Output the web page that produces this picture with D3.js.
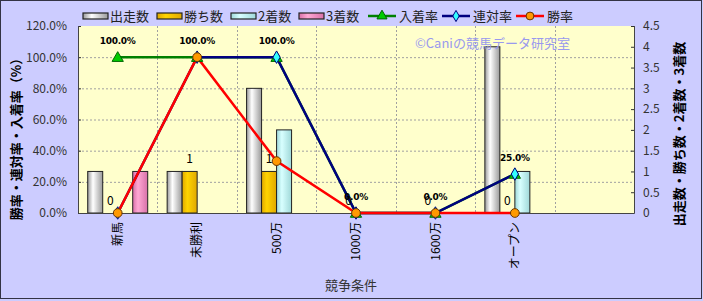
<!DOCTYPE html>
<html>
<head>
<meta charset="utf-8">
<script src="https://cdn.jsdelivr.net/npm/d3@7"></script>
<style>
body { margin: 0; background: #ccccff; }
svg { display: block; font-family: "Noto Sans CJK JP", "DejaVu Sans", sans-serif; }
</style>
</head>
<body>
<div id="chart"></div>
<script>
// data
var categories = ["新馬", "未勝利", "500万", "1000万", "1600万", "オープン", ""];
var starts = [1, 1, 3, 0, 0, 4];
var wins = [0, 1, 1, 0, 0, 0];
var seconds = [0, 0, 2, 0, 0, 1];
var thirds = [1, 0, 0, 0, 0, 0];
var placeRate = [100, 100, 100, 0, 0, 25];
var rentaiRate = [0, 100, 100, 0, 0, 25];
var winRate = [0, 100, 33.3, 0, 0, 0];
var leftTicks = [0, 20, 40, 60, 80, 100, 120];
var rightTicks = [0, 0.5, 1, 1.5, 2, 2.5, 3, 3.5, 4, 4.5];

var W = 703, H = 301;
var plot = {left: 78, right: 634, top: 26, bottom: 213};

var svg = d3.select("#chart").append("svg")
    .attr("width", W)
    .attr("height", H);

var defs = svg.append("defs");
function grad(id, edge, mid) {
    var g = defs.append("linearGradient").attr("id", id)
        .attr("x1", "0%").attr("x2", "100%").attr("y1", "0%").attr("y2", "0%");
    g.append("stop").attr("offset", "0%").attr("stop-color", edge);
    g.append("stop").attr("offset", "35%").attr("stop-color", mid);
    g.append("stop").attr("offset", "100%").attr("stop-color", edge);
}
grad("g-start", "#9a9a9a", "#ffffff");
grad("g-win", "#e0a800", "#ffd400");
grad("g-second", "#9fd8d8", "#d8ffff");
grad("g-third", "#d870a8", "#ffa8d4");

// background and outer frame
svg.append("rect").attr("x", 0.5).attr("y", 0.5).attr("width", W - 2).attr("height", H - 3)
    .attr("fill", "#ccccff").attr("stroke", "#333344");

svg.append("rect")
    .attr("x", plot.left).attr("y", plot.top)
    .attr("width", plot.right - plot.left).attr("height", plot.bottom - plot.top)
    .attr("fill", "#ffffcc");

var x = d3.scaleBand().domain(d3.range(categories.length)).range([plot.left, plot.right]);
var xs = d3.scaleBand().domain(d3.range(4)).range([-30, 30]);
var yL = d3.scaleLinear().domain([0, 120]).range([plot.bottom, plot.top]);
var yR = d3.scaleLinear().domain([0, 4.5]).range([plot.bottom, plot.top]);

//grid
svg.append("g").selectAll("line").data(leftTicks.slice(1, -1)).enter().append("line")
    .attr("x1", plot.left).attr("x2", plot.right)
    .attr("y1", function (d) { return yL(d) + 0.5; })
    .attr("y2", function (d) { return yL(d) + 0.5; })
    .attr("stroke", "#a0a0a0").attr("stroke-dasharray", "2,2");
svg.append("g").selectAll("line").data(d3.range(1, categories.length)).enter().append("line")
    .attr("x1", function (d) { return Math.round(x(d)) + 0.5; })
    .attr("x2", function (d) { return Math.round(x(d)) + 0.5; })
    .attr("y1", plot.top).attr("y2", plot.bottom)
    .attr("stroke", "#a0a0a0").attr("stroke-dasharray", "2,2");

// axes
var leftAxis = svg.append("g").attr("transform", "translate(" + plot.left + ",0)")
    .call(d3.axisRight(yL).tickValues(leftTicks).tickSize(3).tickFormat(function (d) { return d.toFixed(1) + "%"; }));
leftAxis.select(".domain").remove();
leftAxis.selectAll("text").attr("x", -11).attr("text-anchor", "end");

var rightAxis = svg.append("g").attr("transform", "translate(" + plot.right + ",0)")
    .call(d3.axisLeft(yR).tickValues(rightTicks).tickSize(3).tickFormat(d3.format("")));
rightAxis.select(".domain").remove();
rightAxis.selectAll("text").attr("x", 9).attr("text-anchor", "start");

svg.selectAll(".tick text").attr("font-size", 12).attr("fill", "#333").attr("font-family", "Noto Sans CJK JP");
svg.selectAll(".tick line").attr("stroke", "#333");

// bars
var barSeries = [
    {values: starts, fill: "url(#g-start)"},
    {values: wins, fill: "url(#g-win)"},
    {values: seconds, fill: "url(#g-second)"},
    {values: thirds, fill: "url(#g-third)"}
];
barSeries.forEach(function (s, k) {
    svg.append("g").selectAll("rect")
        .data(s.values.map(function (v, i) { return {v: v, i: i}; }).filter(function (d) { return d.v > 0; }))
        .enter().append("rect")
        .attr("x", function (d) { return x(d.i) + x.bandwidth() / 2 + xs(k); })
        .attr("y", function (d) { return yR(d.v); })
        .attr("width", xs.bandwidth())
        .attr("height", function (d) { return yR(0) - yR(d.v); })
        .attr("fill", s.fill)
        .attr("stroke", "#222").attr("stroke-width", 1);
});

// plot frame
svg.append("path")
    .attr("d", "M" + (plot.left + 0.5) + "," + plot.top + "V" + (plot.bottom + 0.5) + "H" + (plot.right + 0.5) + "V" + plot.top)
    .attr("fill", "none").attr("stroke", "#444").attr("stroke-width", 1);

// lines
var cx = function (d, i) { return x(i) + x.bandwidth() / 2; };
var lineSeries = [
    {name: "入着率", values: placeRate, color: "#008000", marker: "triangle", mfill: "#00cc00", mstroke: "#006600"},
    {name: "連対率", values: rentaiRate, color: "#000080", marker: "diamond", mfill: "#33ffff", mstroke: "#000080"},
    {name: "勝率", values: winRate, color: "#ff0000", marker: "circle", mfill: "#ff9900", mstroke: "#663300"}
];
var symbolType = {triangle: d3.symbolTriangle, diamond: d3.symbolDiamond, circle: d3.symbolCircle};
var symbolSize = {triangle: 55, diamond: 45, circle: 60};

lineSeries.forEach(function (s) {
    var line = d3.line().x(cx).y(function (d) { return yL(d); });
    svg.append("path").datum(s.values)
        .attr("d", line)
        .attr("fill", "none").attr("stroke", s.color).attr("stroke-width", 2.5);
});
lineSeries.forEach(function (s) {
    svg.append("g").selectAll("path").data(s.values).enter().append("path")
        .attr("transform", function (d, i) { return "translate(" + cx(d, i) + "," + (yL(d) + (s.marker == "triangle" ? 1 : 0)) + ")"; })
        .attr("d", d3.symbol().type(symbolType[s.marker]).size(symbolSize[s.marker]))
        .attr("fill", s.mfill).attr("stroke", s.mstroke).attr("stroke-width", 1);
});

// data labels
svg.append("g").selectAll("text").data(wins).enter().append("text")
    .attr("x", function (d, i) { return x(i) + x.bandwidth() / 2 + xs(1) + xs.bandwidth() / 2; })
    .attr("y", function (d) { return yR(d) - 8; })
    .attr("text-anchor", "middle")
    .attr("font-size", 12).attr("fill", "#000")
    .text(function (d) { return d; });

svg.append("g").selectAll("text").data(placeRate).enter().append("text")
    .attr("x", cx)
    .attr("y", function (d) { return yL(d) - 13; })
    .attr("text-anchor", "middle")
    .attr("font-size", 9).attr("font-weight", "bold").attr("fill", "#000")
    .attr("font-family", "DejaVu Sans")
    .attr("letter-spacing", -0.3)
    .text(function (d) { return d.toFixed(1) + "%"; });

// x labels
svg.append("g").selectAll("text").data(categories).enter().append("text")
    .attr("transform", function (d, i) { return "translate(" + (x(i) + x.bandwidth() / 2) + ",222) rotate(-90)"; })
    .attr("text-anchor", "end")
    .attr("dy", "0.35em")
    .attr("font-size", 12).attr("fill", "#000")
    .text(function (d) { return d; });

// titles
svg.append("text").attr("x", 351).attr("y", 290).attr("text-anchor", "middle")
    .attr("font-size", 13).attr("fill", "#333").text("競争条件");
svg.append("text").attr("transform", "translate(16,136) rotate(-90)")
    .attr("text-anchor", "middle").attr("dy", "0.35em")
    .attr("font-size", 13).attr("font-weight", "bold").attr("fill", "#000")
    .text("勝率・連対率・入着率（%）");
svg.append("text").attr("transform", "translate(679,134) rotate(-90)")
    .attr("text-anchor", "middle").attr("dy", "0.35em")
    .attr("font-size", 13).attr("font-weight", "bold").attr("fill", "#000")
    .text("出走数・勝ち数・2着数・3着数");

// watermark
svg.append("text").attr("x", 415).attr("y", 48)
    .attr("font-size", 13).attr("fill", "#9999ee")
    .text("©Caniの競馬データ研究室");

// legend
var legendBars = [
    {name: "出走数", fill: "url(#g-start)", x: 83},
    {name: "勝ち数", fill: "url(#g-win)", x: 157},
    {name: "2着数", fill: "url(#g-second)", x: 231},
    {name: "3着数", fill: "url(#g-third)", x: 299}
];
var legendLines = [{x: 368}, {x: 442}, {x: 516}];
var lg = svg.append("g");
legendBars.forEach(function (d) {
    lg.append("rect").attr("x", d.x).attr("y", 13).attr("width", 25).attr("height", 6)
        .attr("fill", d.fill).attr("stroke", "#222").attr("stroke-width", 1.2);
    lg.append("text").attr("x", d.x + 27).attr("y", 16).attr("dy", "0.35em")
        .attr("font-size", 13).attr("fill", "#222").text(d.name);
});
lineSeries.forEach(function (s, k) {
    var lx = legendLines[k].x;
    lg.append("line").attr("x1", lx).attr("x2", lx + 28).attr("y1", 16).attr("y2", 16)
        .attr("stroke", s.color).attr("stroke-width", 2.5);
    lg.append("path").attr("transform", "translate(" + (lx + 14) + "," + (s.marker == "triangle" ? 16 : 16) + ")")
        .attr("d", d3.symbol().type(symbolType[s.marker]).size(symbolSize[s.marker] * 0.8))
        .attr("fill", s.mfill).attr("stroke", s.mstroke);
    lg.append("text").attr("x", lx + 31).attr("y", 16).attr("dy", "0.35em")
        .attr("font-size", 13).attr("fill", "#222").text(s.name);
});
</script>
</body>
</html>
